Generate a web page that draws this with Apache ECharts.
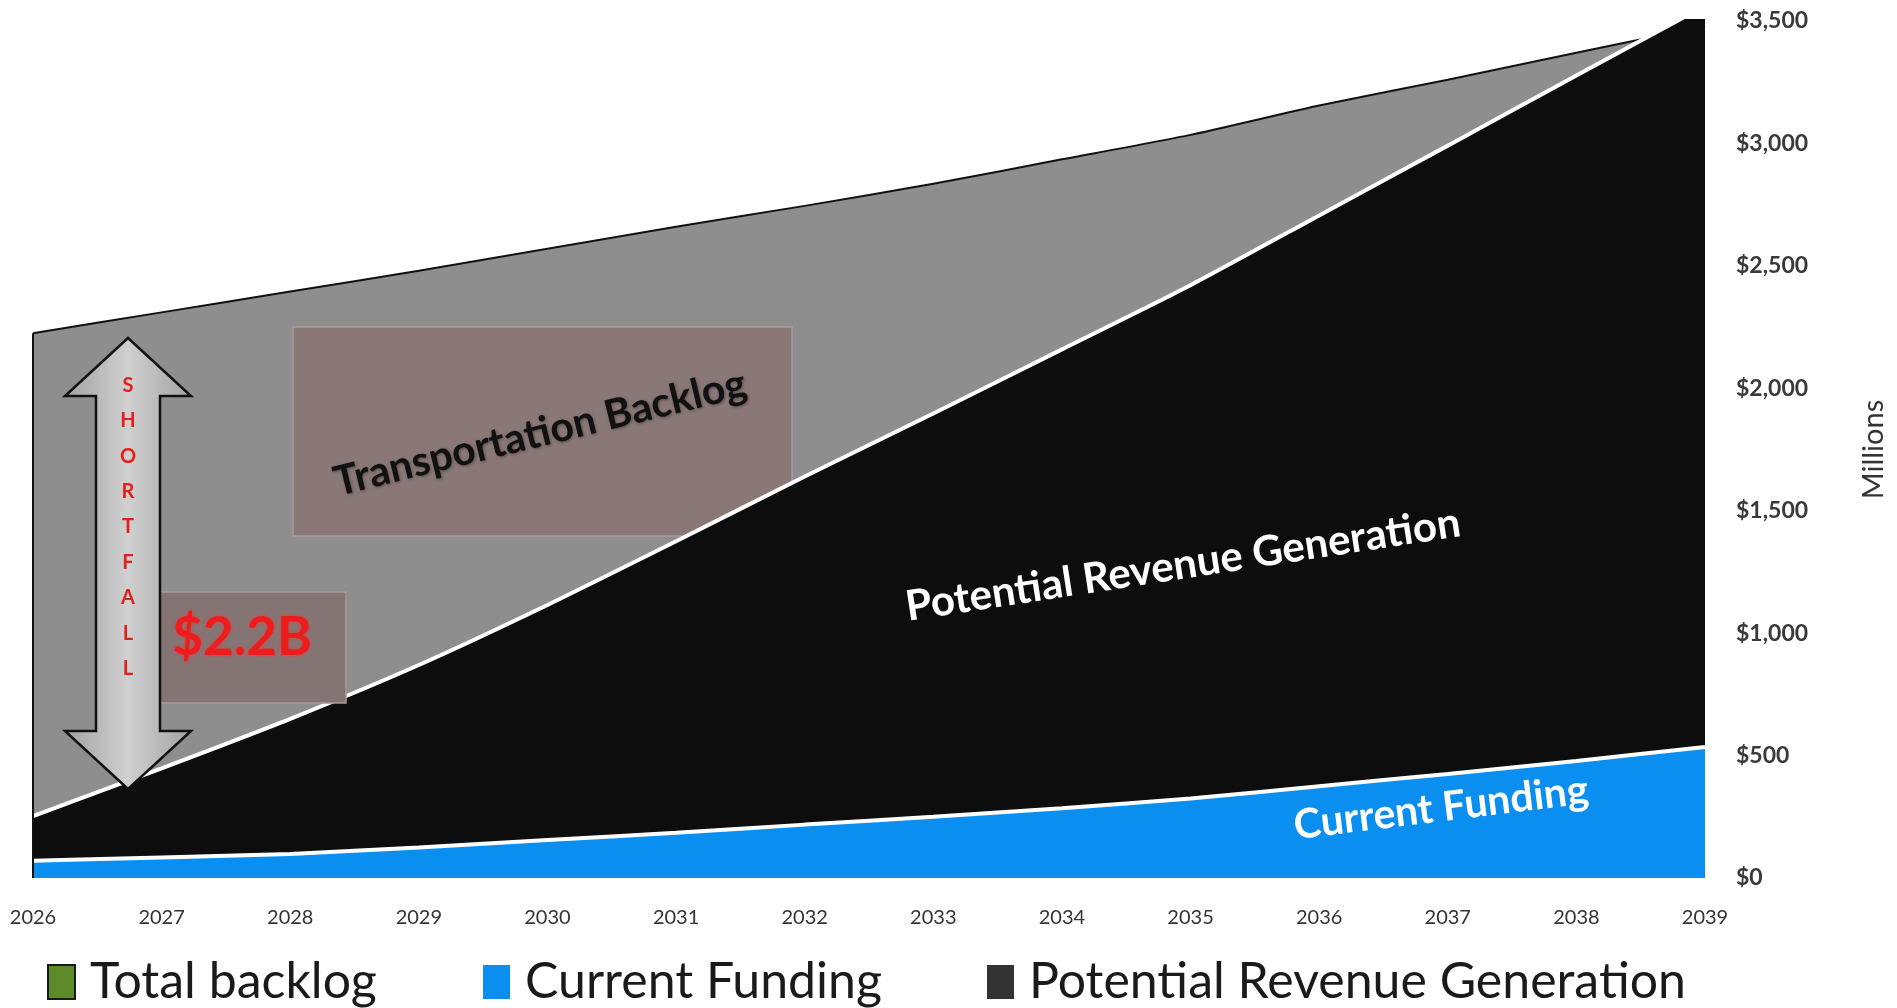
<!DOCTYPE html>
<html>
<head>
<meta charset="utf-8">
<title>Transportation backlog</title>
<script src="https://cdn.jsdelivr.net/npm/echarts@6/dist/echarts.min.js"></script>
<style>
  html, body { margin: 0; padding: 0; background: #fff; }
  #chart { width: 1897px; height: 1008px; }
</style>
</head>
<body>
<div id="chart"></div>
<script>
// values in millions of dollars
var years = ['2026', '2027', '2028', '2029', '2030', '2031', '2032', '2033', '2034', '2035', '2036', '2037', '2038', '2039'];
var totalBacklog = [2225, 2310, 2395, 2480, 2570, 2660, 2745, 2835, 2935, 3035, 3155, 3260, 3370, 3480];
var revenueGeneration = [253, 448, 650, 870, 1115, 1375, 1640, 1897, 2159, 2421, 2706, 2991, 3277, 3562];
var currentFunding = [70, 84, 98, 125, 155, 185, 218, 250, 285, 325, 375, 425, 478, 535];
var yTicks = [0, 500, 1000, 1500, 2000, 2500, 3000, 3500];

var FONT = 'Lato, "Open Sans", sans-serif';

var chart = echarts.init(document.getElementById('chart'), null, { renderer: 'canvas' });

function legendBox(left, name, style) {
  return {
    left: left,
    top: 952,
    icon: 'rect',
    itemWidth: 27,
    itemHeight: 34,
    selectedMode: false,
    data: [{ name: name, itemStyle: style }],
    textStyle: { fontFamily: FONT, fontSize: 50, color: '#1a1a1a', padding: [0, 0, 0, 10] }
  };
}

// double headed arrow for the shortfall
var arrowPts = [
  [128, 338], [191, 396], [160, 396], [160, 731], [191, 731],
  [128, 789], [65, 731], [96, 731], [96, 396], [65, 396]
];

chart.setOption({
  animation: false,
  backgroundColor: '#ffffff',
  grid: { left: 33, right: 192, top: 21, bottom: 130, outerBoundsMode: 'none' },
  legend: [
    legendBox(42, 'Total backlog', { color: '#5e8b2a', borderColor: '#1a1a1a', borderWidth: 2 }),
    legendBox(478, 'Current Funding', { color: '#0a8ff0' }),
    legendBox(982, 'Potential Revenue Generation', { color: '#333333' })
  ],
  xAxis: {
    type: 'category',
    data: years,
    boundaryGap: false,
    axisLine: { show: false },
    axisTick: { show: false },
    splitLine: { show: false },
    axisLabel: { interval: 0, margin: 30, fontFamily: FONT, fontSize: 20, color: '#333' }
  },
  yAxis: {
    type: 'value',
    position: 'right',
    min: yTicks[0],
    max: yTicks[yTicks.length - 1],
    interval: 500,
    name: 'Millions',
    nameLocation: 'middle',
    nameGap: 154,
    nameTextStyle: { fontFamily: FONT, fontSize: 29, color: '#333' },
    axisLine: { show: false },
    axisTick: { show: false },
    splitLine: { show: false },
    axisLabel: {
      margin: 31,
      fontFamily: FONT,
      fontSize: 23,
      fontWeight: 'bold',
      color: '#3a3a3a',
      formatter: function (v) { return '$' + v.toLocaleString('en-US'); }
    }
  },
  series: [
    {
      name: 'Total backlog',
      type: 'line',
      z: 1,
      data: totalBacklog,
      symbol: 'none',
      smooth: 0.2,
      itemStyle: { color: '#8e8e8e' },
      lineStyle: { color: '#111', width: 2 },
      areaStyle: { color: '#8e8e8e', opacity: 1 },
      markLine: {
        silent: true,
        symbol: 'none',
        label: { show: false },
        lineStyle: { color: '#111', width: 2, type: 'solid' },
        data: [[{ coord: [years[0], 0] }, { coord: [years[0], totalBacklog[0]] }]]
      }
    },
    {
      name: 'Potential Revenue Generation',
      type: 'line',
      z: 3,
      data: revenueGeneration,
      symbol: 'none',
      smooth: 0.2,
      itemStyle: { color: '#0d0d0d' },
      lineStyle: { color: '#ffffff', width: 4 },
      areaStyle: { color: '#0d0d0d', opacity: 1 }
    },
    {
      name: 'Current Funding',
      type: 'line',
      z: 4,
      data: currentFunding,
      symbol: 'none',
      smooth: 0.2,
      itemStyle: { color: '#0a8ff0' },
      lineStyle: { color: '#ffffff', width: 4 },
      areaStyle: { color: '#0a8ff0', opacity: 1 }
    }
  ],
  graphic: [
    {
      type: 'rect', z: 2,
      shape: { x: 293, y: 327, width: 499, height: 209 },
      style: { fill: '#8a7877', stroke: '#a89c9c', lineWidth: 1.5 }
    },
    {
      type: 'text', z: 5,
      x: 540, y: 433, rotation: 13.7 * Math.PI / 180,
      style: {
        text: 'Transportation Backlog', fontFamily: FONT, fontSize: 41, fontWeight: 'bold',
        fill: '#111', align: 'center', verticalAlign: 'middle',
        textShadowColor: 'rgba(0,0,0,0.35)', textShadowBlur: 3, textShadowOffsetX: 1, textShadowOffsetY: 1
      }
    },
    {
      type: 'rect', z: 5,
      shape: { x: 138, y: 592, width: 208, height: 111 },
      style: { fill: '#857474', stroke: '#a59a9a', lineWidth: 1.5 }
    },
    {
      type: 'polygon', z: 6,
      shape: { points: arrowPts },
      style: {
        fill: {
          type: 'linear', x: 0, y: 0, x2: 1, y2: 0,
          colorStops: [
            { offset: 0, color: '#a2a2a2' },
            { offset: 0.5, color: '#d0d0d0' },
            { offset: 1, color: '#a2a2a2' }
          ]
        },
        stroke: '#111', lineWidth: 2.5
      }
    },
    {
      type: 'text', z: 7,
      x: 128, y: 527,
      style: {
        text: 'SHORTFALL'.split('').join('\n'), fontFamily: FONT, fontSize: 20, fontWeight: 'bold',
        lineHeight: 35.4, fill: '#e3201c', align: 'center', verticalAlign: 'middle'
      }
    },
    {
      type: 'text', z: 7,
      x: 242, y: 638,
      style: {
        text: '$2.2B', fontFamily: FONT, fontSize: 53, fontWeight: 'bold',
        fill: '#ee1c1c', align: 'center', verticalAlign: 'middle',
        textShadowColor: 'rgba(255,40,40,0.6)', textShadowBlur: 4
      }
    },
    {
      type: 'text', z: 7,
      x: 1183, y: 565, rotation: 8.7 * Math.PI / 180,
      style: {
        text: 'Potential Revenue Generation', fontFamily: FONT, fontSize: 42, fontWeight: 'bold',
        fill: '#ffffff', align: 'center', verticalAlign: 'middle'
      }
    },
    {
      type: 'text', z: 7,
      x: 1441, y: 808, rotation: 7 * Math.PI / 180,
      style: {
        text: 'Current Funding', fontFamily: FONT, fontSize: 41, fontWeight: 'bold',
        fill: '#ffffff', align: 'center', verticalAlign: 'middle'
      }
    }
  ]
});
</script>
</body>
</html>
